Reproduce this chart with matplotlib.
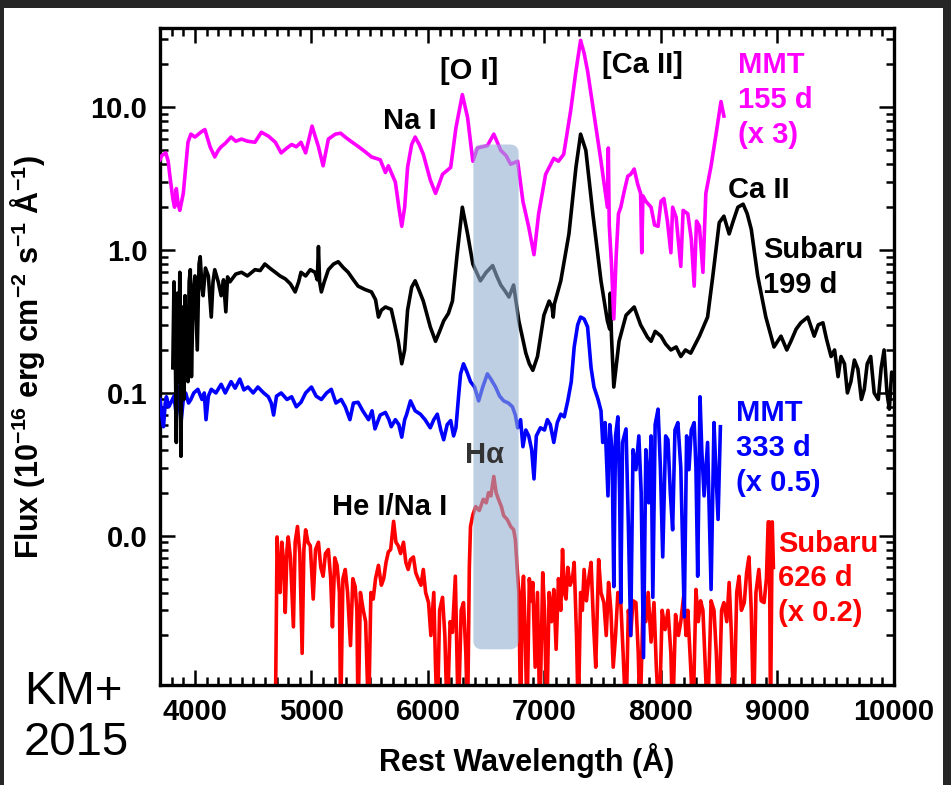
import matplotlib
matplotlib.use('Agg')
import matplotlib.pyplot as plt
from matplotlib.patches import Rectangle, FancyBboxPatch
from matplotlib.ticker import FixedLocator, LogLocator, MultipleLocator, FuncFormatter, NullFormatter

plt.rcParams['font.family'] = ['Liberation Sans', 'DejaVu Sans']
plt.rcParams['font.weight'] = 'bold'
plt.rcParams['mathtext.fontset'] = 'custom'
plt.rcParams['mathtext.rm'] = 'Liberation Sans:bold'
plt.rcParams['mathtext.bf'] = 'Liberation Sans:bold'
plt.rcParams['mathtext.default'] = 'bf'

# MMT 155 d (x 3)
mmt155_wave = [3700, 3715, 3750, 3770, 3785, 3810, 3825, 3840, 3855, 3870, 3900, 3920, 3940, 3965,
               4000, 4050, 4085, 4110, 4130, 4170, 4200, 4225, 4260, 4310, 4350, 4400, 4450, 4515,
               4570, 4630, 4690, 4740, 4790, 4830, 4870, 4910, 4950, 5005, 5060, 5100, 5145, 5205,
               5250, 5290, 5350, 5405, 5460, 5515, 5590, 5635, 5660, 5720, 5750, 5775, 5800, 5825,
               5860, 5890, 5925, 5960, 6020, 6065, 6095, 6125, 6195, 6240, 6295, 6340, 6385, 6425,
               6510, 6565, 6625, 6670, 6710, 6770, 6815, 6865, 6910, 6950, 7010, 7080, 7120, 7165,
               7225, 7270, 7310, 7340, 7370, 7425, 7485, 7520, 7540, 7548, 7556, 7575, 7595, 7615,
               7635, 7655, 7685, 7715, 7740, 7770, 7800, 7825, 7835, 7845, 7870, 7915, 7945, 7975,
               8000, 8025, 8055, 8085, 8100, 8130, 8170, 8190, 8230, 8260, 8285, 8305, 8330, 8360,
               8385, 8430, 8470, 8515, 8540]
mmt155_flux = [4.3, 4.6, 4.8, 4.2, 3.3, 2.3, 2.0, 2.7, 2.1, 1.9, 2.5, 3.8, 5.7, 6.5,
               6.2, 6.7, 7.0, 6.0, 5.3, 4.5, 5.0, 5.3, 5.6, 6.2, 5.8, 6.0, 5.8, 5.7,
               6.7, 6.3, 5.7, 4.8, 5.2, 5.5, 5.3, 5.7, 4.8, 7.4, 5.3, 3.9, 6.0, 6.5,
               6.6, 6.2, 5.7, 5.3, 4.9, 4.5, 4.3, 3.5, 3.9, 3.0, 2.0, 1.47, 2.0, 3.8,
               5.5, 6.2, 5.5, 4.7, 3.1, 2.5, 2.9, 3.4, 3.8, 7.2, 12.3, 8.5, 4.2, 5.2,
               5.4, 6.5, 5.0, 4.6, 4.0, 4.2, 2.2, 1.45, 0.93, 1.8, 3.4, 4.4, 4.2, 4.7,
               9.5, 18.0, 29.5, 24.0, 18.0, 9.0, 4.2, 2.6, 2.0, 5.2, 1.5, 0.8, 0.33, 0.9,
               1.8, 2.0, 2.6, 3.3, 3.4, 3.7, 2.9, 2.5, 0.96, 2.4, 2.2, 2.0, 1.5, 1.47,
               2.2, 2.3, 1.6, 0.96, 2.0, 1.7, 0.77, 1.9, 1.8, 1.2, 0.56, 1.6, 1.47, 0.7,
               2.5, 3.9, 6.3, 11.0, 8.7]

# Subaru 199 d
sub199_wave = [3810, 3820, 3830, 3840, 3850, 3860, 3870, 3880, 3890, 3905, 3915, 3925, 3940, 3950,
               3960, 3970, 3985, 4000, 4020, 4035, 4045, 4060, 4070, 4090, 4115, 4140, 4155, 4170,
               4200, 4225, 4245, 4265, 4280, 4300, 4350, 4400, 4450, 4515, 4560, 4600, 4650, 4690,
               4730, 4775, 4820, 4860, 4890, 4910, 4950, 4990, 5030, 5050, 5060, 5070, 5085, 5110,
               5145, 5190, 5230, 5270, 5315, 5360, 5400, 5460, 5515, 5550, 5575, 5600, 5635, 5685,
               5715, 5745, 5775, 5800, 5825, 5860, 5890, 5925, 5960, 6020, 6065, 6100, 6135, 6175,
               6210, 6250, 6295, 6340, 6385, 6450, 6500, 6555, 6590, 6625, 6660, 6695, 6735, 6780,
               6840, 6870, 6900, 6940, 6995, 7040, 7065, 7075, 7085, 7140, 7210, 7270, 7310, 7355,
               7415, 7485, 7540, 7560, 7565, 7575, 7595, 7640, 7700, 7770, 7825, 7885, 7915, 7950,
               8000, 8040, 8085, 8130, 8170, 8210, 8255, 8295, 8330, 8400, 8445, 8500, 8540, 8585,
               8620, 8660, 8705, 8740, 8775, 8830, 8900, 8970, 9030, 9080, 9115, 9160, 9200, 9260,
               9315, 9350, 9390, 9420, 9460, 9490, 9520, 9545, 9575, 9600, 9630, 9660, 9690, 9720,
               9745, 9770, 9800, 9830, 9865, 9890, 9915, 9940, 9960, 9980, 10000]
sub199_flux = [0.15, 0.6, 0.25, 0.045, 0.5, 0.12, 0.7, 0.036, 0.4, 0.09, 0.48, 0.15, 0.12, 0.6,
               0.73, 0.13, 0.5, 0.66, 0.2, 0.8, 0.9, 0.55, 0.48, 0.75, 0.66, 0.34, 0.6, 0.73,
               0.6, 0.48, 0.62, 0.37, 0.65, 0.6, 0.68, 0.7, 0.66, 0.73, 0.72, 0.8, 0.74, 0.7,
               0.66, 0.63, 0.58, 0.51, 0.6, 0.7, 0.66, 0.73, 0.7, 0.62, 1.06, 0.6, 0.51, 0.6,
               0.73, 0.8, 0.83, 0.76, 0.7, 0.62, 0.56, 0.53, 0.51, 0.45, 0.34, 0.38, 0.4, 0.385,
               0.3, 0.23, 0.16, 0.2, 0.38, 0.55, 0.61, 0.52, 0.44, 0.29, 0.23, 0.27, 0.32, 0.36,
               0.44, 0.93, 2.0, 1.3, 0.8, 0.61, 0.7, 0.78, 0.66, 0.57, 0.52, 0.47, 0.57, 0.32,
               0.19, 0.16, 0.144, 0.18, 0.35, 0.44, 0.4, 0.34, 0.42, 0.61, 1.3, 3.8, 6.5, 5.0,
               1.8, 0.61, 0.32, 0.28, 0.5, 0.25, 0.11, 0.23, 0.35, 0.4, 0.3, 0.245, 0.23, 0.27,
               0.25, 0.22, 0.2, 0.21, 0.18, 0.2, 0.19, 0.22, 0.25, 0.34, 0.66, 1.56, 1.73, 1.3,
               1.6, 2.0, 2.1, 1.8, 1.4, 0.66, 0.34, 0.21, 0.25, 0.2, 0.23, 0.28, 0.31, 0.34,
               0.25, 0.3, 0.31, 0.24, 0.18, 0.2, 0.13, 0.18, 0.16, 0.1, 0.12, 0.17, 0.147, 0.09,
               0.106, 0.16, 0.18, 0.1, 0.09, 0.15, 0.2, 0.1, 0.077, 0.14, 0.125]

# MMT 333 d (x 0.5)
mmt333_wave = [3700, 3715, 3730, 3745, 3755, 3775, 3795, 3820, 3840, 3855, 3870, 3880, 3900, 3920,
               3945, 3965, 3990, 4025, 4060, 4080, 4095, 4115, 4140, 4180, 4225, 4260, 4310, 4345,
               4385, 4420, 4455, 4500, 4540, 4590, 4630, 4655, 4675, 4700, 4740, 4790, 4830, 4870,
               4910, 4950, 5000, 5040, 5085, 5130, 5170, 5210, 5255, 5290, 5330, 5360, 5400, 5440,
               5490, 5520, 5545, 5590, 5635, 5665, 5685, 5720, 5750, 5775, 5800, 5815, 5850, 5890,
               5935, 5975, 6020, 6050, 6080, 6110, 6135, 6165, 6195, 6220, 6240, 6265, 6280, 6305,
               6335, 6365, 6400, 6435, 6470, 6510, 6540, 6580, 6615, 6650, 6690, 6725, 6750, 6770,
               6795, 6815, 6840, 6865, 6890, 6910, 6930, 6965, 7000, 7025, 7050, 7080, 7110, 7140,
               7170, 7200, 7230, 7255, 7285, 7310, 7340, 7370, 7400, 7425, 7460, 7485, 7500, 7520,
               7545, 7560, 7580, 7595, 7610, 7630, 7645, 7655, 7670, 7700, 7720, 7740, 7760, 7785,
               7810, 7830, 7850, 7870, 7895, 7915, 7930, 7950, 7975, 7995, 8015, 8040, 8060, 8080,
               8100, 8120, 8145, 8170, 8200, 8220, 8240, 8260, 8285, 8300, 8315, 8335, 8350, 8370,
               8400, 8430, 8455, 8470, 8490, 8510]
mmt333_flux = [0.09, 0.07, 0.058, 0.085, 0.094, 0.08, 0.086, 0.095, 0.07, 0.11, 0.085, 0.062, 0.09, 0.1,
               0.085, 0.09, 0.1, 0.106, 0.09, 0.1, 0.065, 0.095, 0.106, 0.1, 0.115, 0.1, 0.12, 0.108,
               0.125, 0.105, 0.11, 0.1, 0.11, 0.1, 0.094, 0.085, 0.07, 0.095, 0.1, 0.09, 0.094, 0.08,
               0.086, 0.1, 0.11, 0.095, 0.09, 0.1, 0.106, 0.085, 0.09, 0.08, 0.065, 0.085, 0.086, 0.075,
               0.065, 0.075, 0.056, 0.07, 0.073, 0.065, 0.058, 0.065, 0.06, 0.049, 0.065, 0.07, 0.088, 0.075,
               0.071, 0.065, 0.057, 0.065, 0.071, 0.055, 0.047, 0.06, 0.064, 0.05, 0.057, 0.1, 0.136, 0.16,
               0.14, 0.12, 0.11, 0.088, 0.11, 0.136, 0.125, 0.11, 0.095, 0.088, 0.085, 0.08, 0.07, 0.057,
               0.065, 0.042, 0.055, 0.05, 0.04, 0.025, 0.05, 0.057, 0.055, 0.065, 0.06, 0.045, 0.062, 0.071,
               0.068, 0.088, 0.12, 0.21, 0.3, 0.34, 0.33, 0.29, 0.15, 0.11, 0.09, 0.075, 0.045, 0.062,
               0.019, 0.06, 0.04, 0.0044, 0.05, 0.068, 0.02, 0.0034, 0.045, 0.056, 0.012, 0.002, 0.04, 0.029,
               0.05, 0.02, 0.0014, 0.04, 0.017, 0.05, 0.0037, 0.06, 0.077, 0.03, 0.0071, 0.05, 0.047, 0.02,
               0.011, 0.055, 0.062, 0.03, 0.0027, 0.05, 0.029, 0.055, 0.062, 0.03, 0.0052, 0.094, 0.04, 0.019,
               0.045, 0.0042, 0.062, 0.03, 0.013, 0.058]

# Subaru 626 d (x 0.2)
sub626_wave = [4690, 4705, 4715, 4730, 4745, 4760, 4775, 4790, 4800, 4820, 4845, 4860, 4880, 4900,
               4920, 4935, 4950, 4970, 4990, 5015, 5035, 5060, 5080, 5100, 5120, 5145, 5165, 5180,
               5200, 5220, 5240, 5250, 5270, 5290, 5310, 5335, 5355, 5375, 5390, 5400, 5420, 5445,
               5465, 5490, 5510, 5530, 5550, 5575, 5600, 5620, 5640, 5660, 5680, 5705, 5725, 5745,
               5765, 5790, 5810, 5830, 5850, 5875, 5895, 5915, 5940, 5960, 5980, 6005, 6025, 6050,
               6065, 6080, 6100, 6125, 6145, 6165, 6190, 6210, 6235, 6260, 6285, 6305, 6325, 6340,
               6355, 6365, 6385, 6410, 6440, 6475, 6500, 6520, 6540, 6565, 6585, 6605, 6630, 6650,
               6680, 6710, 6735, 6750, 6765, 6780, 6795, 6810, 6820, 6835, 6850, 6870, 6885, 6900,
               6920, 6940, 6960, 6985, 7000, 7020, 7040, 7060, 7080, 7100, 7120, 7140, 7155, 7170,
               7185, 7200, 7220, 7240, 7255, 7275, 7290, 7310, 7325, 7340, 7360, 7380, 7400, 7420,
               7440, 7465, 7485, 7510, 7530, 7550, 7570, 7590, 7610, 7630, 7655, 7675, 7700, 7720,
               7740, 7760, 7785, 7805, 7820, 7845, 7870, 7890, 7915, 7940, 7960, 7985, 8010, 8035,
               8060, 8085, 8100, 8125, 8150, 8170, 8195, 8215, 8230, 8255, 8275, 8300, 8320, 8340,
               8360, 8380, 8400, 8430, 8455, 8475, 8495, 8520, 8540, 8565, 8585, 8605, 8625, 8650,
               8670, 8690, 8715, 8735, 8755, 8775, 8795, 8815, 8840, 8860, 8885, 8905, 8920, 8930,
               8940, 8955, 8965]
sub626_flux = [0.0005, 0.0098, 0.006, 0.004, 0.009, 0.0068, 0.0029, 0.008, 0.0098, 0.007, 0.0023, 0.009, 0.0116, 0.0075,
               0.0015, 0.008, 0.011, 0.009, 0.0085, 0.0036, 0.008, 0.009, 0.006, 0.0052, 0.0075, 0.008, 0.005, 0.0023,
               0.007, 0.0062, 0.004, 0.0005, 0.005, 0.0058, 0.004, 0.0017, 0.005, 0.0044, 0.003, 0.0005, 0.004, 0.003,
               0.0025, 0.0005, 0.004, 0.0036, 0.005, 0.0062, 0.0045, 0.005, 0.0065, 0.0077, 0.008, 0.0126, 0.009, 0.0085,
               0.0075, 0.009, 0.0065, 0.0058, 0.0068, 0.0071, 0.0055, 0.005, 0.0045, 0.0058, 0.004, 0.0034, 0.002, 0.004,
               0.0012, 0.0005, 0.003, 0.0037, 0.002, 0.0005, 0.0025, 0.0021, 0.0052, 0.0005, 0.003, 0.0034, 0.0015, 0.0005,
               0.006, 0.0116, 0.014, 0.016, 0.015, 0.018, 0.017, 0.02, 0.019, 0.026, 0.02, 0.018, 0.016, 0.0138,
               0.013, 0.0116, 0.011, 0.0094, 0.006, 0.004, 0.0005, 0.004, 0.0052, 0.002, 0.0005, 0.005, 0.0035, 0.0047,
               0.0012, 0.004, 0.0005, 0.0055, 0.003, 0.0005, 0.004, 0.0025, 0.0042, 0.0016, 0.005, 0.003, 0.008, 0.004,
               0.0036, 0.006, 0.0045, 0.005, 0.0065, 0.002, 0.0005, 0.004, 0.003, 0.0058, 0.0035, 0.005, 0.0065, 0.0025,
               0.0012, 0.0068, 0.004, 0.0034, 0.002, 0.0047, 0.003, 0.0012, 0.002, 0.004, 0.0034, 0.0015, 0.0005, 0.003,
               0.002, 0.0035, 0.0034, 0.0015, 0.0005, 0.003, 0.0025, 0.004, 0.0018, 0.0034, 0.0012, 0.0005, 0.003, 0.0022,
               0.003, 0.0015, 0.0005, 0.0028, 0.002, 0.0025, 0.0038, 0.002, 0.003, 0.0012, 0.0005, 0.0042, 0.0025, 0.0035,
               0.003, 0.0012, 0.0005, 0.0035, 0.003, 0.0015, 0.0005, 0.003, 0.0034, 0.0025, 0.0047, 0.002, 0.0005, 0.004,
               0.0052, 0.003, 0.0034, 0.0055, 0.0071, 0.003, 0.0005, 0.004, 0.0058, 0.0035, 0.0034, 0.005, 0.0125, 0.0125,
               0.0005, 0.0125, 0.006]

# shaded H-alpha band (wavelength range, flux range)
band_wave = (6390, 6778)
band_flux = (0.0016, 5.5)

fig = plt.figure(figsize=(9.51, 7.85), dpi=100)
fig.patch.set_facecolor('#262626')
fig.add_artist(Rectangle((4 / 951, 0), 939 / 951, 777 / 785, transform=fig.transFigure,
                         facecolor='white', edgecolor='none', zorder=-5))

ax = fig.add_axes([160 / 951, 100 / 785, 734 / 951, 657 / 785])
ax.set_facecolor('white')

lw = 2.6
ax.plot(sub626_wave, sub626_flux, color='#ff0000', lw=lw, zorder=2)
ax.plot(mmt333_wave, mmt333_flux, color='#0000ff', lw=lw, zorder=3)
ax.plot(sub199_wave, sub199_flux, color='black', lw=lw, zorder=4)
ax.plot(mmt155_wave, mmt155_flux, color='#ff00ff', lw=lw, zorder=5)

ax.set_yscale('log')
ax.set_xlim(3700, 10000)
ax.set_ylim(9e-4, 36)

ax.xaxis.set_major_locator(MultipleLocator(1000))
ax.xaxis.set_minor_locator(MultipleLocator(100))
ax.yaxis.set_major_locator(FixedLocator([0.01, 0.1, 1, 10]))
ax.yaxis.set_minor_locator(LogLocator(base=10, subs=range(2, 10), numticks=20))
ax.yaxis.set_major_formatter(FuncFormatter(lambda v, p: f'{v:.1f}'))
ax.yaxis.set_minor_formatter(NullFormatter())

ax.tick_params(which='both', direction='in', top=True, right=True, width=1.8, labelsize=21)
ax.tick_params(which='major', length=11, pad=9)
ax.tick_params(which='minor', length=6)
for s in ax.spines.values():
    s.set_linewidth(2.4)

for lab in ax.get_xticklabels() + ax.get_yticklabels():
    lab.set_fontweight('bold')

ax.set_xlabel('Rest Wavelength (Å)', fontsize=22, fontweight='bold')
ax.set_ylabel(r'Flux (10$^{-16}$ erg cm$^{-2}$ s$^{-1}$ Å$^{-1}$)', fontsize=22, fontweight='bold')
ax.xaxis.set_label_coords(0.5, -0.088)
ax.yaxis.set_label_coords(-0.154, 0.5)

# H-alpha band box (rounded), placed via the axes data transform
to_axes = ax.transData + ax.transAxes.inverted()
(bx0, by0), (bx1, by1) = to_axes.transform([(band_wave[0], band_flux[0]), (band_wave[1], band_flux[1])])
box = FancyBboxPatch((bx0, by0), bx1 - bx0, by1 - by0, boxstyle='round,pad=0,rounding_size=0.012',
                     mutation_aspect=1.1, transform=ax.transAxes, facecolor='#93afd2',
                     edgecolor='none', alpha=0.6, zorder=6)
ax.add_patch(box)

fs = 21
ax.text(6350, 18, '[O I]', fontsize=fs, fontweight='bold', ha='center', va='center', zorder=7)
ax.text(5840, 8.0, 'Na I', fontsize=fs, fontweight='bold', ha='center', va='center', zorder=7)
ax.text(7845, 19.7, '[Ca II]', fontsize=fs, fontweight='bold', ha='center', va='center', zorder=7)
ax.text(8661, 24.7, 'MMT\n155 d\n(x 3)', fontsize=fs, fontweight='bold', color='#ff00ff',
        ha='left', va='top', linespacing=1.3, zorder=7)
ax.text(8575, 2.62, 'Ca II', fontsize=fs, fontweight='bold', ha='left', va='center', zorder=7)
ax.text(8876, 1.25, 'Subaru\n199 d', fontsize=fs, fontweight='bold', ha='left', va='top',
        linespacing=1.3, zorder=7)
ax.text(8644, 0.09, 'MMT\n333 d\n(x 0.5)', fontsize=fs, fontweight='bold', color='#0000ff',
        ha='left', va='top', linespacing=1.3, zorder=7)
ax.text(9005, 0.011, 'Subaru\n626 d\n(x 0.2)', fontsize=fs, fontweight='bold', color='#ff0000',
        ha='left', va='top', linespacing=1.3, zorder=7)
ax.text(6486, 0.037, 'Hα', fontsize=fs, fontweight='bold', color='#333333',
        ha='center', va='center', zorder=7)
ax.text(5669, 0.0158, 'He I/Na I', fontsize=fs, fontweight='bold', ha='center', va='center', zorder=7)

fig.text(24 / 951, 20 / 785, 'KM+\n2015', fontsize=34, fontweight='normal', color='black',
         ha='left', va='bottom', linespacing=1.2)

fig.savefig('out.png', dpi=100, facecolor=fig.get_facecolor())
